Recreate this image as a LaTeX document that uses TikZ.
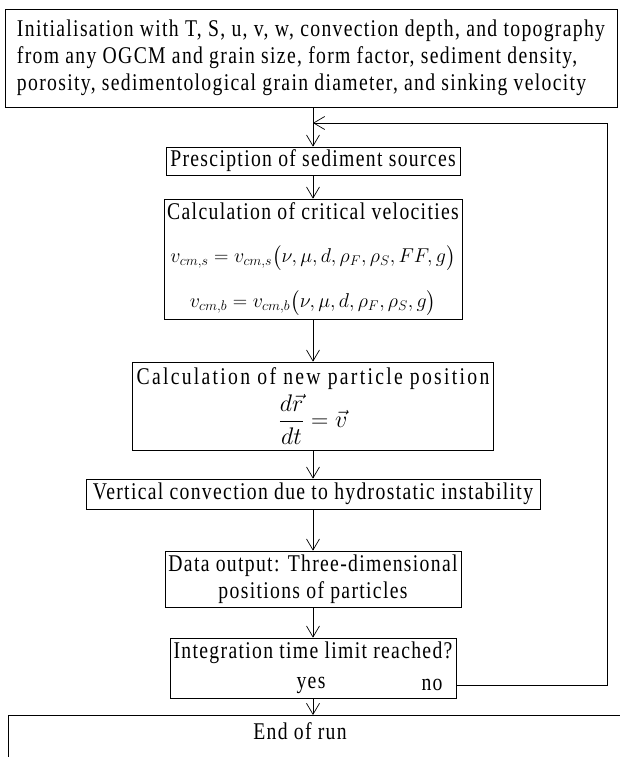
\documentclass[tikz,border=0pt]{standalone}
\usepackage{fix-cm}
\usepackage{amsmath}
\usepackage{fontspec}
\setmainfont{Liberation Serif}[FakeStretch=0.82,LetterSpace=5.5]
\usetikzlibrary{arrows.meta}
\begin{document}
\begin{tikzpicture}[x=1pt,y=-1pt,stage/.style={shape=rectangle,draw=black,line width=0.7pt,inner sep=3pt,font=\fontsize{24}{27}\selectfont},flow/.style={draw=black,line width=0.7pt,-{Straight Barb[length=11pt,width=13pt,line width=0.7pt]}},tag/.style={inner sep=0pt,font=\fontsize{24}{27}\selectfont}]
\def\cx{313};
\def\wide{\addfontfeature{LetterSpace=9.5}};
\def\eqs{\fontsize{20}{24}\selectfont};

\useasboundingbox (0,0) rectangle (619,757);

\node[stage,align=left,minimum width=612,minimum height=98] (init) at (311,58) {Initialisation with T, S, u, v, w, convection depth, and topography\\from any OGCM and grain size, form factor, sediment density,\\porosity, sedimentological grain diameter, and sinking velocity};

\coordinate (join) at (\cx,123);
\coordinate (loopc) at (607,123);

\node[stage,minimum width=294,minimum height=23] (sources) at (\cx,161) {Presciption of sediment sources};
\draw[flow] (init.south -| sources.north) -- (sources.north);

\node[stage,align=center,minimum width=298,minimum height=120] (crit) at (\cx,259) {Calculation of critical velocities\\[16pt]{\eqs$v_{cm,s}=v_{cm,s}\bigl(\nu,\mu,d,\rho_F,\rho_S,FF,g\bigr)$}\\[18pt]{\eqs$v_{cm,b}=v_{cm,b}\bigl(\nu,\mu,d,\rho_F,\rho_S,g\bigr)$}};
\draw[flow] (sources.south) -- (crit.north);

\node[stage,align=center,minimum width=361,minimum height=88] (pos) at (\cx,406) {{\wide Calculation of new particle position}\\[4pt]$\dfrac{d\vec{r}}{dt}=\vec{v}$};
\draw[flow] (crit.south) -- (pos.north);

\node[stage,minimum width=454,minimum height=30] (conv) at (\cx,494) {Vertical convection due to hydrostatic instability};
\draw[flow] (pos.south) -- (conv.north);

\node[stage,align=center,minimum width=296,minimum height=56] (out) at (\cx,579) {Data output: Three-dimensional\\positions of particles};
\draw[flow] (conv.south) -- (out.north);

\node[stage,align=center,minimum width=286,minimum height=60] (decide) at (\cx,668) {Integration time limit reached?\\\strut};
\draw[flow] (out.south) -- (decide.north);
\node[tag] (yes) at (311,685) {yes};
\node[tag] (no) at (432,685) {no};

\draw[flow] (decide.east |- no) -| (loopc) -- (join);

\node[stage,anchor=north west,minimum width=640,minimum height=90] (stop) at (8,715) {};
\node[tag] (stoptxt) at (300,731) {End of run};
\draw[flow] (decide.south) -- (decide.south |- stop.north);
\end{tikzpicture}
\end{document}
